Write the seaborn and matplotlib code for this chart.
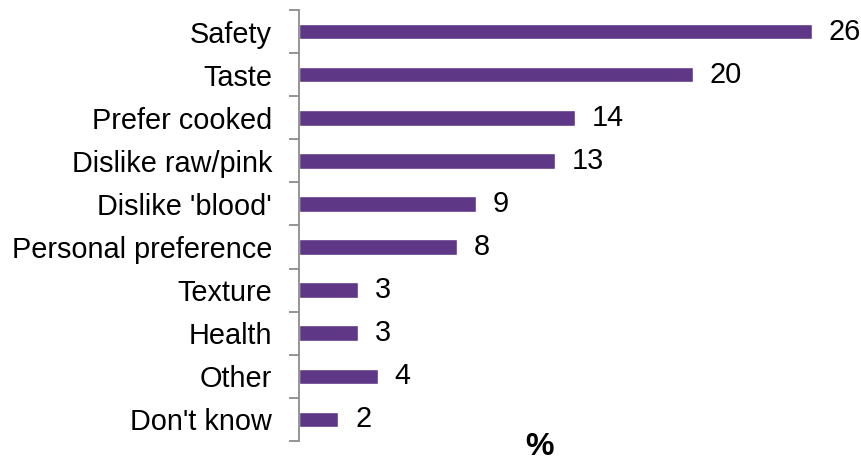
import matplotlib
matplotlib.use("Agg")
import matplotlib.pyplot as plt
import seaborn as sns
import pandas as pd

reasons = ["Safety", "Taste", "Prefer cooked", "Dislike raw/pink", "Dislike 'blood'",
           "Personal preference", "Texture", "Health", "Other", "Don't know"]
percent = [26, 20, 14, 13, 9, 8, 3, 3, 4, 2]

sns.set_theme(style="white")
plt.rcParams["font.family"] = ["Liberation Sans", "DejaVu Sans"]
plt.rcParams["text.color"] = "black"
plt.rcParams["ytick.color"] = "black"
plt.rcParams["xtick.color"] = "black"

df = pd.DataFrame({"reason": reasons, "percent": percent})

fig = plt.figure(figsize=(8.62, 4.63), dpi=100)
ax = fig.add_axes([299 / 862, 22 / 463, 552 / 862, 431 / 463])

sns.barplot(data=df, y="reason", x="percent", orient="h", color="#5E3786",
            saturation=1, width=0.36, ax=ax)

ax.set_xlim(0, 28)
ax.set_ylim(9.5, -0.5)

for cont in ax.containers:
    ax.bar_label(cont, fmt="%d", padding=12, fontsize=20.8, color="black")

# category boundaries carry the tick marks, labels sit at bar centres
ax.set_yticks([i - 0.5 for i in range(11)], minor=False)
ax.set_yticklabels([])
ax.set_yticks(range(len(reasons)), minor=True)
ax.set_yticklabels(reasons, minor=True, fontsize=20.8, color="black")
ax.tick_params(axis="y", which="major", left=True, length=7.2, width=1.3,
               color="#8C8C8C", direction="out")
ax.tick_params(axis="y", which="minor", left=False, length=0, pad=19.4)
ax.set_xticks([])
ax.set_xlabel("")
ax.set_ylabel("")

for side in ["top", "right", "bottom"]:
    ax.spines[side].set_visible(False)
ax.spines["left"].set_color("#8C8C8C")
ax.spines["left"].set_linewidth(1.3)

fig.text(540 / 862, 1 - 447 / 463, "%", fontsize=23, fontweight="bold",
         ha="center", va="center", color="black")

fig.savefig("out.png", dpi=100)
